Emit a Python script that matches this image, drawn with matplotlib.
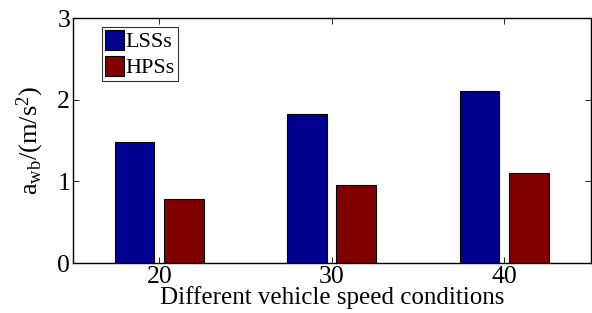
import numpy as np
import matplotlib
matplotlib.use("Agg")
import matplotlib.pyplot as plt

plt.rcParams['font.family'] = ['Liberation Serif']
plt.rcParams['mathtext.fontset'] = 'custom'
plt.rcParams['mathtext.rm'] = 'Liberation Serif'
plt.rcParams['mathtext.it'] = 'Liberation Serif'

# data
speeds = [20, 30, 40]
lss = [1.48, 1.82, 2.11]
hps = [0.78, 0.96, 1.10]
series_names = ["LSSs", "HPSs"]

fig = plt.figure(figsize=(5.92, 3.13), dpi=100)
ax = fig.add_axes([73/592, 1 - 263/313, (590.5-73)/592, (263-18)/313])

x = np.array(speeds, dtype=float)
w = 2.3
ax.bar(x - 1.44, lss, width=w, color="#00008F", edgecolor="k", linewidth=0.8, label=series_names[0])
ax.bar(x + 1.42, hps, width=w, color="#800000", edgecolor="k", linewidth=0.8, label=series_names[1])

ax.set_xlim(15, 45)
ax.set_ylim(0, 3)
ax.set_xticks(speeds)
ax.set_yticks([0, 1, 2, 3])
ax.tick_params(direction="in", top=True, right=True, labelsize=18.5, length=4, width=0.6, pad=2)
for s in ax.spines.values():
    s.set_linewidth(1.0)

ax.set_xlabel("Different vehicle speed conditions", fontsize=18, labelpad=-1)
ax.set_ylabel(r"$\mathregular{a_{wb}/(m/s^2)}$", fontsize=19, labelpad=8)

leg = ax.legend(loc="upper left", bbox_to_anchor=(0.056, 0.963), fontsize=16,
                frameon=True, fancybox=False, edgecolor="k", handlelength=0.85,
                handleheight=1.0, handletextpad=0.1, borderpad=0.12,
                labelspacing=0.15, borderaxespad=0)
leg.get_frame().set_linewidth(0.8)

fig.savefig("out.png", dpi=100)
